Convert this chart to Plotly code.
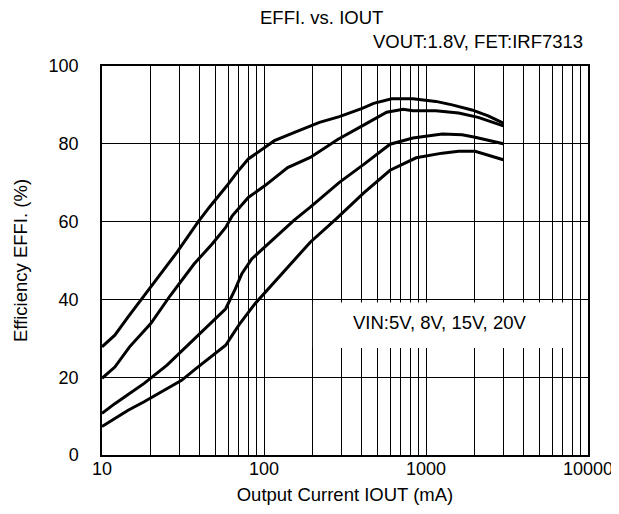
import plotly.graph_objs as go

# efficiency curves, VOUT 1.8 V, FET IRF7313
iout_5v = [10, 12, 14.5, 20, 29, 39, 46, 59, 68, 80, 97, 116, 153, 220, 292, 404, 475, 614, 830, 1150, 1450, 1920, 2420, 3000]
effi_5v = [27.8, 30.8, 35.5, 43.2, 52.1, 59.8, 63.7, 69.2, 72.6, 76.1, 78.6, 80.8, 82.9, 85.5, 87.0, 89.1, 90.4, 91.6, 91.6, 90.9, 90.0, 88.7, 87.2, 85.3]

iout_8v = [10, 12, 14.8, 20, 26.4, 37, 48, 58, 63.7, 80, 101, 140, 193, 254, 285, 404, 572, 722, 830, 1150, 1590, 2100, 3000]
effi_8v = [19.7, 22.6, 27.8, 33.8, 41.0, 49.1, 54.3, 58.5, 61.5, 66.2, 69.2, 73.9, 76.5, 79.9, 81.1, 84.6, 88.1, 88.9, 88.5, 88.5, 87.9, 86.8, 84.6]

iout_15v = [10, 12, 14.8, 18.2, 25.2, 36.5, 44, 58, 66.5, 73, 84, 116, 153, 193, 292, 413, 600, 830, 1260, 1670, 2010, 3000]
effi_15v = [10.7, 13.2, 15.8, 18.4, 23.1, 29.5, 32.9, 37.6, 42.7, 46.6, 50.4, 55.6, 60.3, 63.7, 70.1, 74.7, 79.9, 81.5, 82.5, 82.3, 81.7, 80.0]

iout_20v = [10, 12, 14.5, 18.2, 25.2, 31, 38, 48, 58, 63.7, 71, 88, 116, 146, 193, 279, 413, 600, 870, 1260, 1590, 2010, 3000]
effi_20v = [7.3, 9.4, 11.5, 13.7, 17.1, 19.2, 22.2, 25.6, 28.2, 30.8, 33.8, 38.9, 44.4, 49.1, 54.7, 60.7, 67.4, 73.2, 76.4, 77.6, 78.1, 78.1, 75.9]

x_grid = [m * 10 ** e for e in range(1, 4) for m in range(1, 10)] + [10000]
x_labels = [str(v) if str(v).strip("0") == "1" else "" for v in x_grid]
y_ticks = [0, 20, 40, 60, 80, 100]

font_name = "Liberation Sans, Arial, sans-serif"
txt = dict(size=18.5, color="black")

fig = go.Figure()
for x, y in [(iout_5v, effi_5v), (iout_8v, effi_8v), (iout_15v, effi_15v), (iout_20v, effi_20v)]:
    fig.add_trace(go.Scatter(x=x, y=y, mode="lines", line=dict(color="black", width=3), showlegend=False))

# white box behind the VIN label, hides the grid there
fig.add_shape(type="rect", xref="paper", yref="paper", x0=0.434, x1=0.967, y0=0.275, y1=0.392,
              fillcolor="white", line=dict(width=0), layer="above")

fig.add_annotation(text="VIN:5V, 8V, 15V, 20V", xref="paper", yref="paper", x=0.694, y=0.34,
                   xanchor="center", yanchor="middle", showarrow=False, font=txt)
fig.add_annotation(text="EFFI. vs. IOUT", xref="paper", yref="paper", x=0.4525, y=1.124,
                   xanchor="center", yanchor="middle", showarrow=False, font=txt)
fig.add_annotation(text="VOUT:1.8V, FET:IRF7313", xref="paper", yref="paper", x=0.994, y=1.063,
                   xanchor="right", yanchor="middle", showarrow=False, font=txt)

fig.update_layout(
    width=619, height=514,
    margin=dict(l=85, r=39, t=58, b=67),
    paper_bgcolor="white", plot_bgcolor="white",
    font=dict(family=font_name, size=18, color="black"),
    xaxis=dict(type="log", range=[1, 4], tickvals=x_grid, ticktext=x_labels,
               showgrid=True, gridcolor="black", gridwidth=1,
               showline=True, linecolor="black", linewidth=1.5, mirror=True,
               ticks="", ticklabelstandoff=-3,
               title=dict(text="Output Current IOUT (mA)", standoff=10, font=txt)),
    yaxis=dict(range=[0, 100], tickvals=y_ticks,
               showgrid=True, gridcolor="black", gridwidth=1, zeroline=False,
               showline=True, linecolor="black", linewidth=1.5, mirror=True,
               ticks="", ticklabelstandoff=18,
               title=dict(text="Efficiency EFFI. (%)", standoff=16, font=txt)),
)

fig.write_html("out.html")
